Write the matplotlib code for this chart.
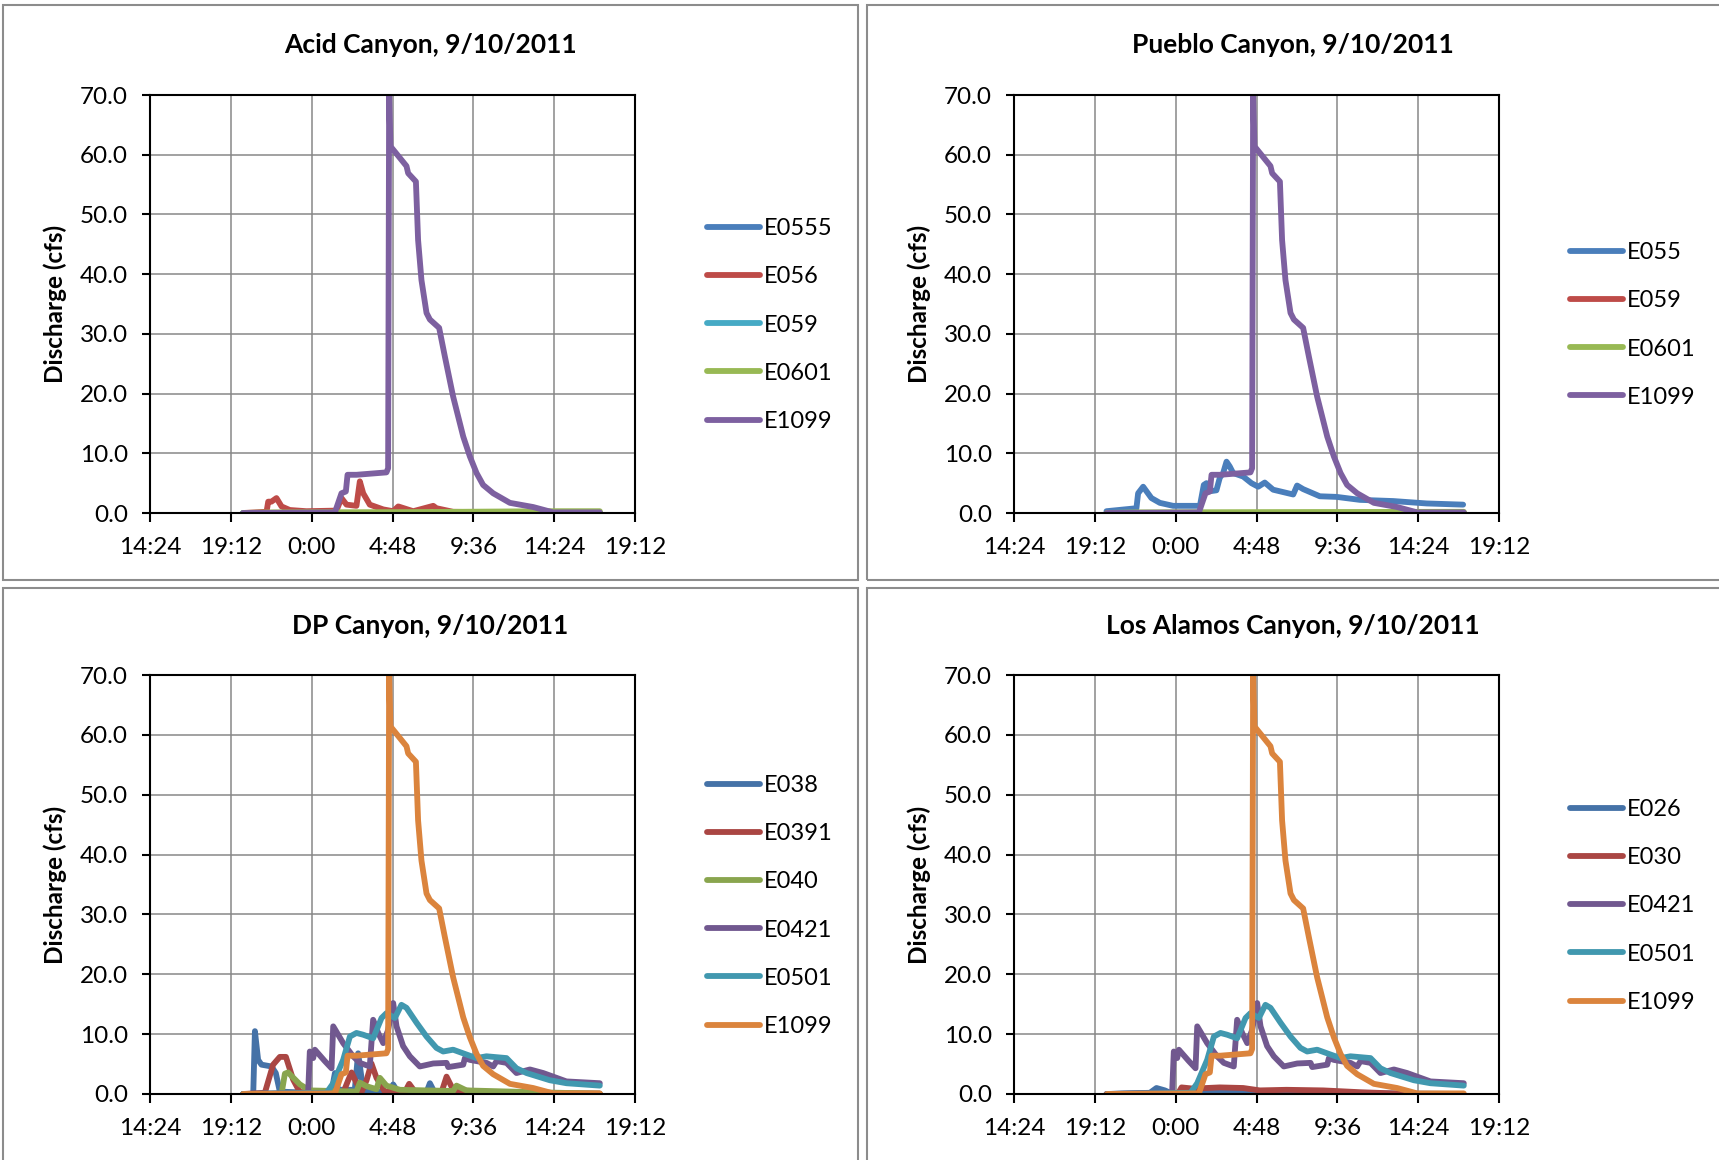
import matplotlib
matplotlib.use("Agg")
import matplotlib.pyplot as plt
from matplotlib.patches import Rectangle

plt.rcParams['font.family'] = ['Lato', 'DejaVu Sans']

# ---------------- DATA (time in hours since 9/10/2011 00:00, discharge in cfs) ----------------
x_ticks = [14.4, 19.2, 24.0, 28.8, 33.6, 38.4, 43.2]
x_tick_labels = ["14:24", "19:12", "0:00", "4:48", "9:36", "14:24", "19:12"]
y_ticks = [0, 10, 20, 30, 40, 50, 60, 70]

# E1099 (common downstream gage shown in every panel)
e1099_t = [19.93, 25.38, 25.77, 26.03, 26.13, 26.66, 28.44, 28.54, 28.60, 28.68, 28.94, 29.63,
           29.73, 30.19, 30.32, 30.52, 30.82, 31.02, 31.57, 31.91, 32.40, 33.00, 33.39, 33.79,
           34.18, 34.78, 35.77, 37.15, 38.34, 41.11]
e1099_q = [0.0, 0.1, 3.3, 3.6, 6.4, 6.4, 6.8, 7.5, 70.0, 61.4, 60.5, 58.1,
           56.9, 55.5, 45.7, 39.0, 33.5, 32.4, 31.0, 26.2, 19.5, 12.8, 9.5, 6.7,
           4.7, 3.3, 1.7, 1.0, 0.1, 0.1]

# Acid Canyon
acid_e0555_t = [19.93, 41.11]
acid_e0555_q = [0.0, 0.0]
acid_e056_t = [19.93, 21.32, 21.42, 21.61, 21.91, 22.21, 22.70, 23.69, 25.47, 25.77, 26.07,
               26.66, 26.86, 27.06, 27.45, 28.25, 28.84, 29.14, 30.03, 31.22, 31.41, 32.40,
               35.17, 41.11]
acid_e056_q = [0.0, 0.2, 1.9, 1.9, 2.5, 1.1, 0.5, 0.3, 0.4, 2.5, 1.4,
               1.2, 5.3, 3.3, 1.4, 0.6, 0.3, 1.1, 0.3, 1.2, 0.8, 0.2,
               0.1, 0.1]
acid_e059_t = [19.93, 41.11]
acid_e059_q = [0.05, 0.05]
acid_e0601_t = [19.93, 21.8, 30.0, 38.0, 41.11]
acid_e0601_q = [0.0, 0.1, 0.15, 0.3, 0.3]

# Pueblo Canyon
pueblo_e055_t = [19.89, 21.67, 21.77, 22.07, 22.56, 23.06, 23.85, 25.44, 25.67, 25.83, 25.93,
                 26.42, 26.62, 26.82, 27.02, 27.21, 27.41, 28.01, 28.50, 28.90, 29.29, 29.79,
                 30.98, 31.21, 31.57, 32.56, 33.55, 34.94, 36.92, 38.90, 41.07]
pueblo_e055_q = [0.3, 0.8, 3.3, 4.4, 2.5, 1.7, 1.2, 1.2, 4.7, 5.0, 3.6,
                 3.8, 5.9, 6.7, 8.6, 7.8, 6.7, 6.1, 5.0, 4.4, 5.1, 3.9,
                 3.1, 4.6, 4.0, 2.8, 2.7, 2.2, 2.0, 1.6, 1.4]
pueblo_e059_t = [19.93, 41.11]
pueblo_e059_q = [0.05, 0.05]
pueblo_e0601_t = [19.93, 21.7, 30.0, 41.11]
pueblo_e0601_q = [0.0, 0.1, 0.15, 0.2]

# DP Canyon
dp_e038_t = [19.93, 20.53, 20.63, 20.82, 21.02, 21.61, 21.87, 22.11, 23.89, 25.18, 25.38, 25.57,
             26.56, 26.76, 26.96, 27.26, 28.64, 28.84, 29.14, 30.82, 31.02, 31.31, 41.11]
dp_e038_q = [0.0, 0.0, 10.5, 5.7, 4.9, 4.6, 3.5, 0.4, 0.2, 0.4, 3.5, 0.7,
             0.7, 6.8, 2.7, 0.4, 0.3, 1.6, 0.2, 0.3, 1.8, 0.2, 0.05]
dp_e0391_t = [19.93, 21.22, 21.71, 22.11, 22.47, 22.90, 23.30, 25.87, 26.17, 26.37, 26.62, 26.96,
              27.26, 27.55, 27.85, 28.34, 29.53, 29.79, 30.13, 31.71, 32.01, 32.40, 35.17, 41.11]
dp_e0391_q = [0.0, 0.2, 4.9, 6.2, 6.2, 2.4, 0.3, 0.2, 2.3, 3.6, 2.1, 0.3,
              2.3, 5.1, 2.7, 0.4, 0.3, 1.7, 0.4, 0.3, 2.9, 0.7, 0.2, 0.05]
dp_e040_t = [19.93, 22.21, 22.41, 22.60, 23.30, 23.89, 26.66, 26.86, 27.26, 27.85, 28.05, 28.44,
             29.24, 32.40, 32.60, 33.19, 37.15, 41.11]
dp_e040_q = [0.0, 0.05, 3.4, 3.6, 1.6, 0.6, 0.4, 1.9, 1.3, 0.8, 2.7, 1.4,
             0.7, 0.5, 1.4, 0.6, 0.3, 0.05]
e0421_t = [19.93, 23.79, 23.89, 24.09, 24.19, 24.78, 25.18, 25.28, 25.87, 26.46, 26.86, 27.45,
           27.65, 27.95, 28.25, 28.54, 28.84, 29.04, 29.43, 29.83, 30.42, 31.22, 32.01, 32.11,
           33.00, 33.10, 33.39, 34.38, 34.78, 34.98, 35.57, 36.16, 36.96, 37.75, 39.13, 41.11]
e0421_q = [0.0, 0.2, 7.1, 6.0, 7.4, 5.5, 4.3, 11.3, 8.5, 6.3, 5.2, 4.6,
           12.4, 10.2, 8.5, 10.7, 15.2, 11.3, 8.0, 6.3, 4.6, 5.1, 5.2, 4.5,
           4.9, 6.0, 5.7, 5.2, 4.6, 5.5, 5.2, 3.5, 4.1, 3.5, 2.1, 1.8]
e0501_t = [19.93, 24.88, 25.28, 25.87, 26.27, 26.66, 27.06, 27.65, 28.15, 28.44, 28.94, 29.33,
           29.63, 30.23, 30.82, 31.41, 31.81, 32.40, 33.19, 33.79, 34.38, 35.57, 36.16, 36.76,
           38.14, 39.13, 41.11]
e0501_q = [0.0, 0.2, 1.8, 5.7, 9.6, 10.2, 9.9, 9.3, 12.7, 13.5, 12.7, 14.9,
           14.4, 11.9, 9.6, 7.7, 7.1, 7.4, 6.6, 6.0, 6.3, 6.0, 4.3, 3.5,
           2.3, 1.8, 1.4]

# Los Alamos Canyon
la_e026_t = [19.89, 22.47, 22.86, 23.36, 23.75, 26.62, 41.07]
la_e026_q = [0.0, 0.2, 1.0, 0.6, 0.1, 0.3, 0.0]
la_e030_t = [19.89, 24.15, 24.35, 25.04, 26.62, 28.01, 29.00, 30.58, 32.76, 34.94, 37.91, 41.07]
la_e030_q = [0.0, 0.1, 1.1, 0.9, 1.1, 1.0, 0.6, 0.7, 0.6, 0.3, 0.0, 0.0]

# ---------------- STYLE ----------------
C_BLUE, C_RED, C_CYAN, C_GREEN, C_PURPLE = "#4A7EBB", "#BE4B48", "#46AAC5", "#98B954", "#7D60A0"
D_BLUE, D_RED, D_GREEN, D_PURPLE, D_CYAN, D_ORANGE = "#4572A7", "#AA4643", "#89A54E", "#71588F", "#4198AF", "#DB843D"

panels = [
    dict(title="Acid Canyon, 9/10/2011", rect=(150, 95, 635, 513), box=(3, 5, 858, 580),
         ylab_x=55, title_y=45, leg=(707, 325),
         series=[("E0555", acid_e0555_t, acid_e0555_q, C_BLUE),
                 ("E056", acid_e056_t, acid_e056_q, C_RED),
                 ("E059", acid_e059_t, acid_e059_q, C_CYAN),
                 ("E0601", acid_e0601_t, acid_e0601_q, C_GREEN),
                 ("E1099", e1099_t, e1099_q, C_PURPLE)]),
    dict(title="Pueblo Canyon, 9/10/2011", rect=(1014, 95, 1499, 513), box=(867, 5, 1760, 580),
         ylab_x=919, title_y=45, leg=(1570, 325),
         series=[("E055", pueblo_e055_t, pueblo_e055_q, C_BLUE),
                 ("E059", pueblo_e059_t, pueblo_e059_q, C_RED),
                 ("E0601", pueblo_e0601_t, pueblo_e0601_q, C_GREEN),
                 ("E1099", e1099_t, e1099_q, C_PURPLE)]),
    dict(title="DP Canyon, 9/10/2011", rect=(150, 675, 635, 1094), box=(3, 588, 858, 1200),
         ylab_x=55, title_y=626, leg=(707, 906),
         series=[("E038", dp_e038_t, dp_e038_q, D_BLUE),
                 ("E0391", dp_e0391_t, dp_e0391_q, D_RED),
                 ("E040", dp_e040_t, dp_e040_q, D_GREEN),
                 ("E0421", e0421_t, e0421_q, D_PURPLE),
                 ("E0501", e0501_t, e0501_q, D_CYAN),
                 ("E1099", e1099_t, e1099_q, D_ORANGE)]),
    dict(title="Los Alamos Canyon, 9/10/2011", rect=(1014, 675, 1499, 1094), box=(867, 588, 1760, 1200),
         ylab_x=919, title_y=626, leg=(1570, 906),
         series=[("E026", la_e026_t, la_e026_q, D_BLUE),
                 ("E030", la_e030_t, la_e030_q, D_RED),
                 ("E0421", e0421_t, e0421_q, D_PURPLE),
                 ("E0501", e0501_t, e0501_q, D_CYAN),
                 ("E1099", e1099_t, e1099_q, D_ORANGE)]),
]

W, H = 1719, 1160
fig = plt.figure(figsize=(W / 100, H / 100), dpi=100)
FS_TICK = 17.5
FS_LEG = 17
FS_TITLE = 19
FS_YLAB = 17.5
LW = 4.2

for p in panels:
    bx0, by0, bx1, by1 = p["box"]
    fig.patches.append(Rectangle((bx0 / W, 1 - by1 / H), (bx1 - bx0) / W, (by1 - by0) / H,
                                 transform=fig.transFigure, fill=False,
                                 edgecolor="#8c8c8c", linewidth=1.5, zorder=0))
    x0, y0, x1, y1 = p["rect"]
    ax = fig.add_axes([x0 / W, 1 - y1 / H, (x1 - x0) / W, (y1 - y0) / H])
    for name, t, q, c in p["series"]:
        ax.plot(t, q, color=c, lw=LW, label=name, solid_joinstyle="round",
                solid_capstyle="round", zorder=3)
    ax.set_xlim(14.4, 43.2)
    ax.set_ylim(0, 70)
    ax.set_xticks(x_ticks)
    ax.set_xticklabels(x_tick_labels)
    ax.set_yticks(y_ticks)
    ax.set_yticklabels([f"{v:.1f}" for v in y_ticks])
    ax.grid(True, color="#878787", lw=1.1, zorder=1)
    ax.set_axisbelow(True)
    for s in ax.spines.values():
        s.set_color("black")
        s.set_linewidth(1.5)
        s.set_zorder(4)
    ax.tick_params(axis="x", direction="out", length=6.5, width=1.5, pad=11, labelsize=FS_TICK)
    ax.tick_params(axis="y", direction="out", length=6, width=1.5, pad=10, labelsize=FS_TICK)
    cx = (bx0 + min(bx1, W)) / 2
    fig.text(cx / W, 1 - p["title_y"] / H, p["title"], ha="center", va="center",
             fontsize=FS_TITLE, fontweight="bold")
    fig.text(p["ylab_x"] / W, 1 - ((y0 + y1) / 2) / H, "Discharge (cfs)", rotation=90,
             ha="center", va="center", fontsize=FS_YLAB, fontweight="bold")
    leg = ax.legend(loc="center left", bbox_to_anchor=(p["leg"][0] / W, 1 - p["leg"][1] / H),
                    bbox_transform=fig.transFigure, frameon=False, fontsize=FS_LEG,
                    borderpad=0, borderaxespad=0, handlelength=2.25, handletextpad=0.15,
                    labelspacing=1.15)
    for ln in leg.get_lines():
        ln.set_linewidth(LW)
        ln.set_solid_capstyle("round")

fig.savefig("out.png", dpi=100)
